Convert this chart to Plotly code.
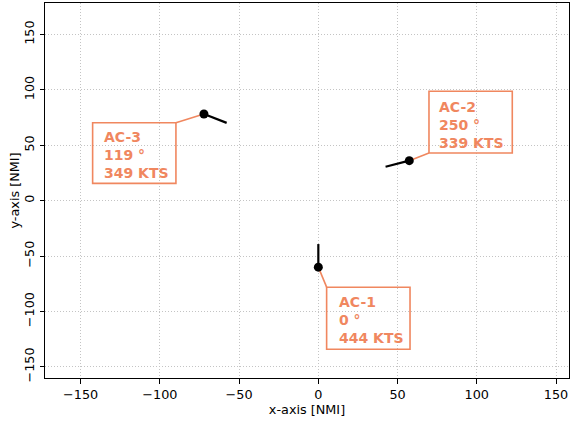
import math
import plotly.graph_objects as go

# ---- data ----
labels = ["AC-1", "AC-2", "AC-3"]
x_pos = [0.0, 57.4, -72.2]        # NMI
y_pos = [-60.0, 36.1, 78.2]       # NMI
headings = [0, 250, 119]          # degrees
speeds = [444, 339, 349]          # KTS

x_ticks = [-150, -100, -50, 0, 50, 100, 150]
y_ticks = [-150, -100, -50, 0, 50, 100, 150]

# ---- style / layout constants ----
LEAD = 0.047                      # heading vector length per knot (NMI)
LABEL_COLOR = "#F0875F"
FONT = "DejaVu Sans"

# pixel offsets relative to aircraft dot (x right, y up)
box_px = {
    "AC-1": (8.3, 91.7, -20.0, -82.0),
    "AC-2": (19.7, 103.0, 69.4, 7.7),
    "AC-3": (-111.3, -28.0, -8.7, -69.3),
}
corner_px = {
    "AC-1": (8.3, -20.0),
    "AC-2": (19.7, 7.7),
    "AC-3": (-28.0, -8.7),
}
text_px = {
    "AC-1": (19.3, -28.7),
    "AC-2": (29.0, 60.0),
    "AC-3": (-101.3, -16.7),
}

fig = go.Figure()

# heading vectors
for x, y, h, s in zip(x_pos, y_pos, headings, speeds):
    L = s * LEAD
    hx = x + L * math.sin(math.radians(h))
    hy = y + L * math.cos(math.radians(h))
    fig.add_trace(go.Scatter(x=[x, hx], y=[y, hy], mode="lines",
                             line=dict(color="black", width=2.2),
                             showlegend=False, hoverinfo="skip"))

# aircraft positions
fig.add_trace(go.Scatter(x=x_pos, y=y_pos, mode="markers",
                         marker=dict(color="black", size=9),
                         showlegend=False, hoverinfo="skip"))

shapes = []
annotations = []
for lab, x, y, h, s in zip(labels, x_pos, y_pos, headings, speeds):
    bx0, bx1, by0, by1 = box_px[lab]
    shapes.append(dict(type="rect", xref="x", yref="y",
                       xsizemode="pixel", ysizemode="pixel",
                       xanchor=x, yanchor=y,
                       x0=bx0, x1=bx1, y0=by0, y1=by1,
                       line=dict(color=LABEL_COLOR, width=1.6),
                       fillcolor="rgba(0,0,0,0)", layer="between"))
    cx, cy = corner_px[lab]
    shapes.append(dict(type="line", xref="x", yref="y",
                       xsizemode="pixel", ysizemode="pixel",
                       xanchor=x, yanchor=y,
                       x0=0, y0=0, x1=cx, y1=cy,
                       line=dict(color=LABEL_COLOR, width=1.6),
                       layer="between"))
    tx, ty = text_px[lab]
    annotations.append(dict(
        x=x, y=y, xref="x", yref="y", showarrow=False,
        xanchor="left", yanchor="top", align="left",
        xshift=tx, yshift=ty + 2.8, borderpad=0,
        text=f"<b>{lab}<br>{h} °<br>{s} KTS</b>",
        font=dict(family=FONT, size=14, color=LABEL_COLOR),
    ))

# y-axis title as a rotated text placed in the left margin
annotations.append(dict(
    x=0, y=0.5, xref="paper", yref="paper", showarrow=False,
    xanchor="center", yanchor="middle", xshift=-31, textangle=-90,
    text="y-axis [NMI]", font=dict(family=FONT, size=12.8, color="black"),
))

axis_common = dict(
    automargin=False,
    showline=True, linecolor="black", linewidth=1, mirror=True,
    ticks="outside", ticklen=4.5, tickwidth=1, tickcolor="black",
    showgrid=True, gridcolor="#c4c4c4", gridwidth=1, griddash="1px,2px",
    zeroline=False, tickfont=dict(family=FONT, size=12.8, color="black"),
)

fig.update_layout(
    template="none",
    width=570, height=423,
    margin=dict(l=45, r=1, t=3, b=45),
    paper_bgcolor="white", plot_bgcolor="white",
    font=dict(family=FONT, size=12.8, color="black"),
    shapes=shapes, annotations=annotations,
    xaxis=dict(range=[-172.5, 158.2], tickvals=x_ticks,
               title=dict(text="x-axis [NMI]", font=dict(size=12.8), standoff=4),
               **axis_common),
    yaxis=dict(range=[-160.0, 178.4], tickvals=y_ticks, tickangle=-90,
               **axis_common),
)

fig.write_html("out.html", config={"displayModeBar": False},
               post_script="document.body.style.margin='0';")
